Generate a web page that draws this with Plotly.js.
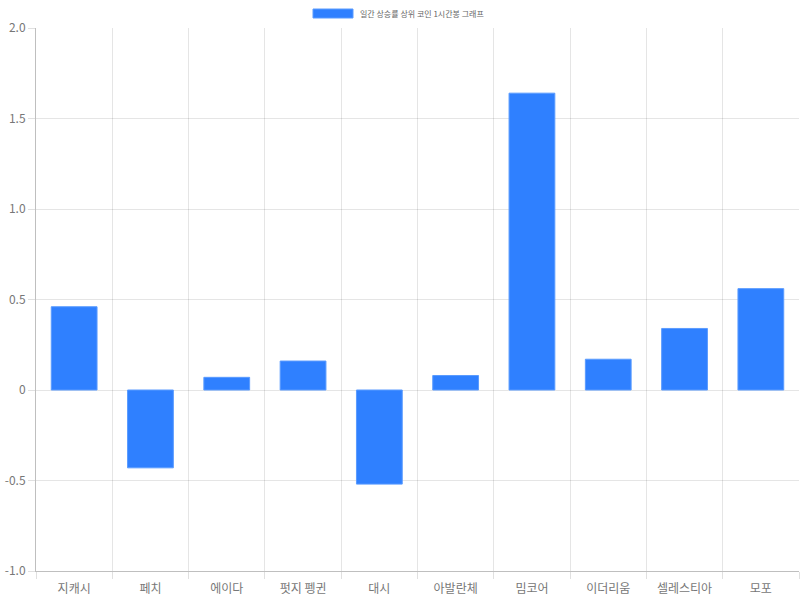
<!DOCTYPE html>
<html>
<head>
<meta charset="utf-8">
<script src="https://cdn.plot.ly/plotly-3.0.1.min.js"></script>
<style>html,body{margin:0;padding:0;background:#fff;}#chart{width:800px;height:600px;}</style>
</head>
<body>
<div id="chart"></div>
<script>
const categories = ["지캐시", "페치", "에이다", "펏지 펭귄", "대시", "아발란체", "밈코어", "이더리움", "셀레스티아", "모포"];
const values = [0.46, -0.43, 0.07, 0.16, -0.52, 0.08, 1.64, 0.17, 0.34, 0.56];
const seriesName = "일간 상승률 상위 코인 1시간봉 그래프";
const yTickVals = [-1.0, -0.5, 0, 0.5, 1.0, 1.5, 2.0];
const yTickText = ["-1.0", "-0.5", "0", "0.5", "1.0", "1.5", "2.0"];

const font = "'Noto Sans CJK KR', 'Noto Sans', sans-serif";
const trace = {
  type: "bar",
  x: categories,
  y: values,
  name: seriesName,
  width: 0.6,
  marker: { color: "#2f80ff", line: { color: "#5a9bff", width: 1 } },
  hoverinfo: "x+y"
};
const layout = {
  width: 800, height: 600,
  margin: { l: 36, r: 1, t: 28, b: 29 },
  paper_bgcolor: "#fff", plot_bgcolor: "#fff",
  showlegend: false,
  font: { family: font, size: 12, color: "#666" },
  xaxis: {
    type: "category",
    tickson: "boundaries",
    ticks: "outside", ticklen: 7, tickcolor: "rgba(0,0,0,0.12)",
    ticklabelstandoff: 7,
    showgrid: true, gridcolor: "rgba(0,0,0,0.1)", gridwidth: 1,
    showline: true, linecolor: "rgba(0,0,0,0.25)", linewidth: 1,
    tickfont: { family: font, size: 12, color: "#777" },
    zeroline: false, mirror: false
  },
  yaxis: {
    range: [-1.0, 2.0],
    tickvals: yTickVals, ticktext: yTickText,
    ticks: "outside", ticklen: 7, tickcolor: "rgba(0,0,0,0.12)",
    showgrid: true, gridcolor: "rgba(0,0,0,0.1)", gridwidth: 1,
    showline: true, linecolor: "rgba(0,0,0,0.25)", linewidth: 1,
    zeroline: false,
    tickfont: { family: font, size: 12, color: "#777" }
  },
  shapes: [{
    type: "rect", xref: "paper", yref: "paper",
    x0: (313 - 36) / 763, x1: (353 - 36) / 763,
    y0: (571 - 18) / 543, y1: (571 - 9) / 543,
    fillcolor: "#2f80ff", line: { color: "#5a9bff", width: 1 }
  }],
  annotations: [{
    xref: "paper", yref: "paper",
    x: (358 - 36) / 763, y: (571 - 13.5) / 543,
    xanchor: "left", yanchor: "middle",
    text: seriesName, showarrow: false,
    font: { family: font, size: 8, color: "#666" }
  }]
};
Plotly.newPlot("chart", [trace], layout, { displayModeBar: false, staticPlot: true });
</script>
</body>
</html>
